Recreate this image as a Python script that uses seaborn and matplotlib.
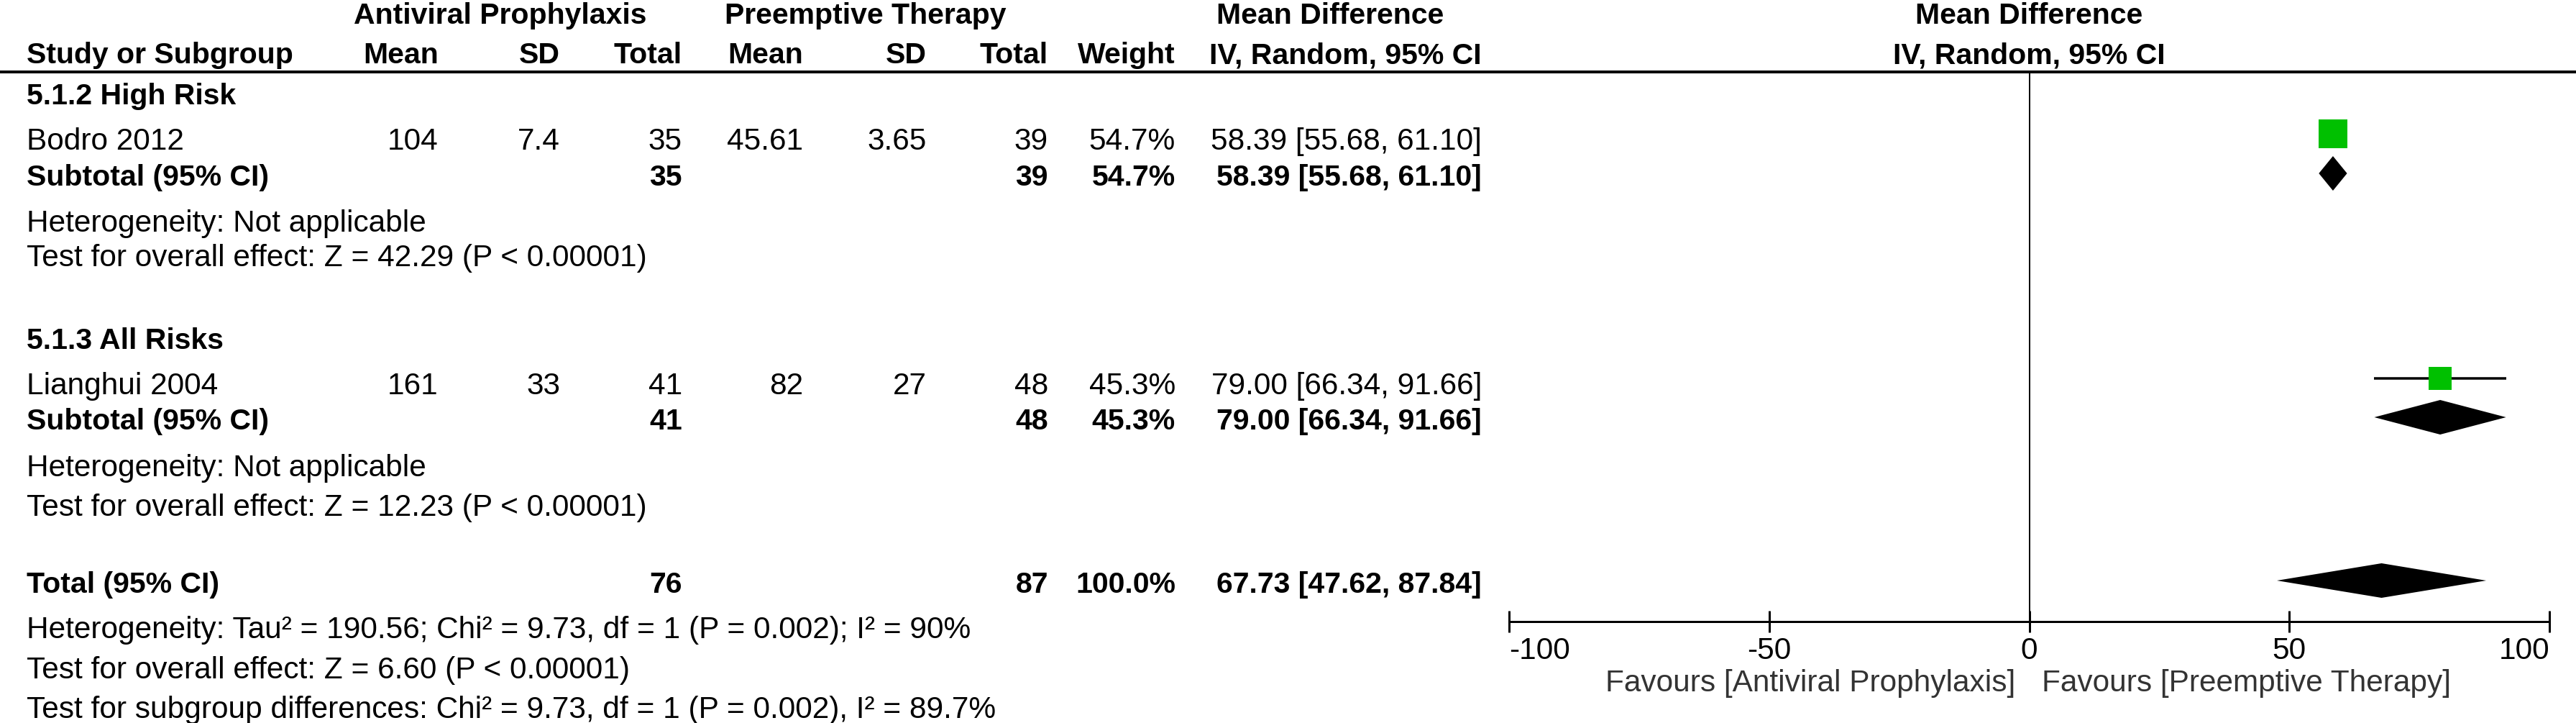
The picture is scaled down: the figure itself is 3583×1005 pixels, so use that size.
import matplotlib
matplotlib.use('Agg')
import matplotlib.pyplot as plt
import matplotlib.transforms as mtransforms
import seaborn as sns

# ---- data ----
studies = ['Bodro 2012', 'Lianghui 2004']
subgroups = ['5.1.2 High Risk', '5.1.3 All Risks']
mean_ap = [104, 161]
sd_ap = [7.4, 33]
n_ap = [35, 41]
mean_pt = [45.61, 82]
sd_pt = [3.65, 27]
n_pt = [39, 48]
weight = [54.7, 45.3]
md = [58.39, 79.00]
md_lo = [55.68, 66.34]
md_hi = [61.10, 91.66]

# subgroup pooled results (one study each)
sub_n_ap = [35, 41]
sub_n_pt = [39, 48]
sub_weight = [54.7, 45.3]
sub_md = [58.39, 79.00]
sub_lo = [55.68, 66.34]
sub_hi = [61.10, 91.66]
sub_het = ['Heterogeneity: Not applicable', 'Heterogeneity: Not applicable']
sub_test = ['Test for overall effect: Z = 42.29 (P < 0.00001)',
            'Test for overall effect: Z = 12.23 (P < 0.00001)']

total_n_ap = 76
total_n_pt = 87
total_weight = 100.0
total_md = 67.73
total_lo = 47.62
total_hi = 87.84
total_notes = ['Heterogeneity: Tau\u00b2 = 190.56; Chi\u00b2 = 9.73, df = 1 (P = 0.002); I\u00b2 = 90%',
               'Test for overall effect: Z = 6.60 (P < 0.00001)',
               'Test for subgroup differences: Chi\u00b2 = 9.73, df = 1 (P = 0.002), I\u00b2 = 89.7%']

xticks = [-100, -50, 0, 50, 100]
fav_left = 'Favours [Antiviral Prophylaxis]'
fav_right = 'Favours [Preemptive Therapy]'

# ---- layout (pixels from top-left) ----
W, H = 3583, 1005
sub_base = [145, 485]      # subgroup title baselines
study_base = [208, 548]
subtot_base = [258, 597]
het_base = [322, 662]
test_base = [370, 717]
total_base = 824
notes_base = [887, 943, 998]
col_x = {'mean1': 610, 'sd1': 779, 'n1': 949, 'mean2': 1117, 'sd2': 1289,
         'n2': 1458, 'w': 1635, 'ci': 2061}
name_x = 37
fs, fsb = 30.5, 29.5
px = 0.72  # points per pixel at dpi 100

sns.set_theme(style='white')
plt.rcParams['font.family'] = ['Liberation Sans', 'DejaVu Sans']

fig = plt.figure(figsize=(W / 100, H / 100), dpi=100)
ax_t = fig.add_axes([0, 0, 1, 1])
ax_t.set_xlim(0, W)
ax_t.set_ylim(H, 0)
ax_t.axis('off')

ax_top, ax_bot, ax_l, ax_r = 100, 864, 2099, 3546
ax_f = fig.add_axes([ax_l / W, (H - ax_bot) / H, (ax_r - ax_l) / W, (ax_bot - ax_top) / H])
ax_f.set_facecolor('none')


def txt(x, y, s, bold=False, ha='left', color='black', trans=None):
    ax_t.text(x, y, s, ha=ha, va='baseline', fontsize=fsb if bold else fs,
              fontweight='bold' if bold else 'normal', color=color,
              transform=trans if trans is not None else ax_t.transData)


# header
txt(696, 33, 'Antiviral Prophylaxis', bold=True, ha='center')
txt(1204, 33, 'Preemptive Therapy', bold=True, ha='center')
txt(1850, 33, 'Mean Difference', bold=True, ha='center')
txt(name_x, 88, 'Study or Subgroup', bold=True)
for key, lab in [('mean1', 'Mean'), ('sd1', 'SD'), ('n1', 'Total'), ('mean2', 'Mean'),
                 ('sd2', 'SD'), ('n2', 'Total'), ('w', 'Weight'), ('ci', 'IV, Random, 95% CI')]:
    txt(col_x[key], 88, lab, bold=True, ha='right')
blend = mtransforms.blended_transform_factory(ax_f.transData, ax_t.transData)
txt(0, 33, 'Mean Difference', bold=True, ha='center', trans=blend)
txt(0, 88, 'IV, Random, 95% CI', bold=True, ha='center', trans=blend)
ax_t.axhline(100, color='black', lw=4 * px)

# study rows, subgroup rows
for i in range(len(studies)):
    txt(name_x, sub_base[i], subgroups[i], bold=True)
    y = study_base[i]
    txt(name_x, y, studies[i])
    txt(col_x['mean1'], y, f'{mean_ap[i]:g}', ha='right')
    txt(col_x['sd1'], y, f'{sd_ap[i]:g}', ha='right')
    txt(col_x['n1'], y, f'{n_ap[i]}', ha='right')
    txt(col_x['mean2'], y, f'{mean_pt[i]:g}', ha='right')
    txt(col_x['sd2'], y, f'{sd_pt[i]:g}', ha='right')
    txt(col_x['n2'], y, f'{n_pt[i]}', ha='right')
    txt(col_x['w'], y, f'{weight[i]:.1f}%', ha='right')
    txt(col_x['ci'], y, f'{md[i]:.2f} [{md_lo[i]:.2f}, {md_hi[i]:.2f}]', ha='right')

    y = subtot_base[i]
    txt(name_x, y, 'Subtotal (95% CI)', bold=True)
    txt(col_x['n1'], y, f'{sub_n_ap[i]}', bold=True, ha='right')
    txt(col_x['n2'], y, f'{sub_n_pt[i]}', bold=True, ha='right')
    txt(col_x['w'], y, f'{sub_weight[i]:.1f}%', bold=True, ha='right')
    txt(col_x['ci'], y, f'{sub_md[i]:.2f} [{sub_lo[i]:.2f}, {sub_hi[i]:.2f}]', bold=True, ha='right')
    txt(name_x, het_base[i], sub_het[i])
    txt(name_x, test_base[i], sub_test[i])

# overall
txt(name_x, total_base, 'Total (95% CI)', bold=True)
txt(col_x['n1'], total_base, f'{total_n_ap}', bold=True, ha='right')
txt(col_x['n2'], total_base, f'{total_n_pt}', bold=True, ha='right')
txt(col_x['w'], total_base, f'{total_weight:.1f}%', bold=True, ha='right')
txt(col_x['ci'], total_base, f'{total_md:.2f} [{total_lo:.2f}, {total_hi:.2f}]', bold=True, ha='right')
for yb, note in zip(notes_base, total_notes):
    txt(name_x, yb, note)

# ---- forest panel ----
study_y = [b - 22 for b in study_base]
ax_f.axvline(0, color='black', lw=2 * px, zorder=1)
ax_f.hlines(study_y, md_lo, md_hi, color='black', lw=3.5 * px, zorder=2)
sns.scatterplot(x=md, y=study_y, marker='s', s=[(w * 0.72 * px) ** 2 for w in weight],
                color='#00C000', linewidth=0, ax=ax_f, legend=False, zorder=3)


def diamond(m, lo, hi, yc, h=48):
    ax_f.fill([lo, m, hi, m], [yc, yc - h / 2, yc, yc + h / 2], color='black', lw=0, zorder=3)


for i in range(len(subgroups)):
    diamond(sub_md[i], sub_lo[i], sub_hi[i], subtot_base[i] - 17)
diamond(total_md, total_lo, total_hi, total_base - 17)

ax_f.set_xlim(xticks[0], xticks[-1])
ax_f.set_ylim(ax_bot, ax_top)
ax_f.set_yticks([])
ax_f.set_xticks(xticks)
ax_f.set_xticklabels([f'{t}' for t in xticks], fontsize=fs)
labs = ax_f.get_xticklabels()
labs[0].set_ha('left')
labs[-1].set_ha('right')
ax_f.tick_params(axis='x', direction='inout', length=30 * px, width=3 * px,
                 pad=4.3, colors='black', bottom=True)
for side in ['top', 'left', 'right']:
    ax_f.spines[side].set_visible(False)
ax_f.spines['bottom'].set_linewidth(3 * px)
ax_f.spines['bottom'].set_color('black')
ax_f.grid(False)

txt(2803, 961, fav_left, ha='right', color='#333333')
txt(2840, 961, fav_right, color='#333333')

fig.savefig('out.png', dpi=100)
